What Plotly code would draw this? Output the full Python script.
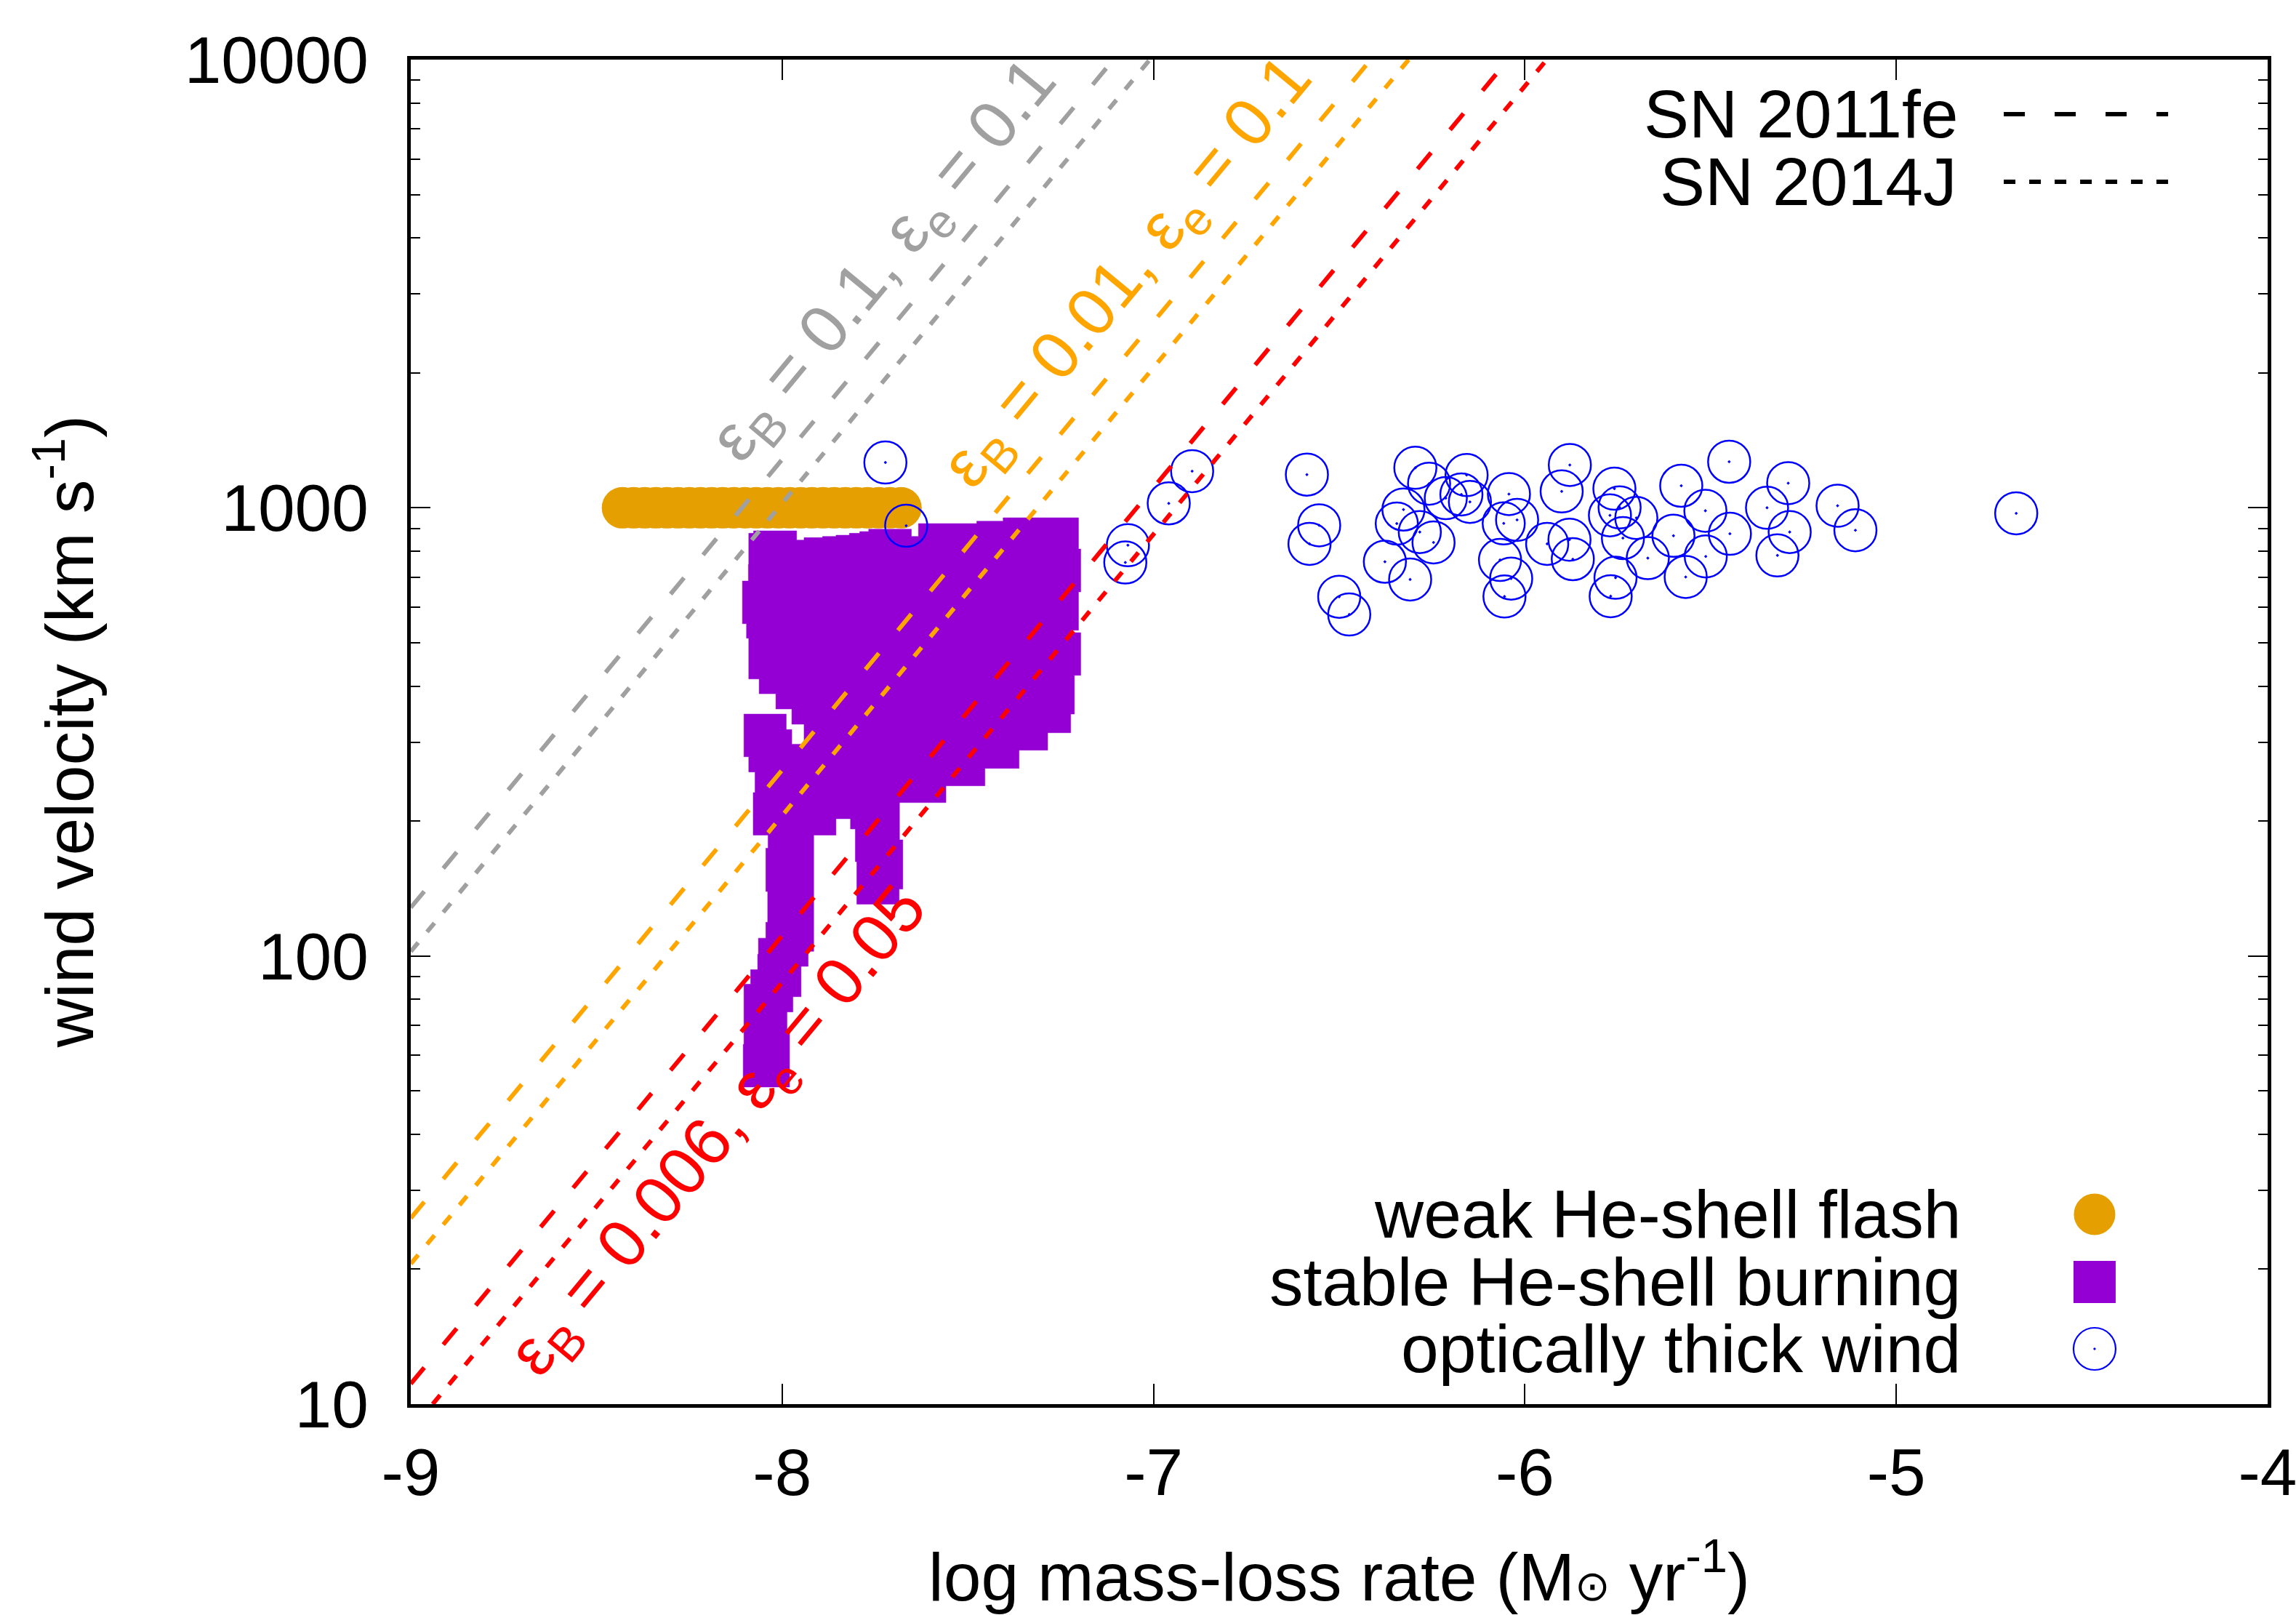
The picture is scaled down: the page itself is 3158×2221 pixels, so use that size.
import plotly.graph_objects as go

# ---------------- data ----------------
# log mass-loss rate (Msun/yr) and wind velocity (km/s)

# weak He-shell flash models (filled orange circles)
flash_x = [-8.43, -8.40, -8.37, -8.34, -8.31, -8.28, -8.25, -8.22, -8.19, -8.16,
           -8.13, -8.10, -8.07, -8.04, -8.01, -7.98, -7.95, -7.92, -7.89, -7.86,
           -7.83, -7.80, -7.77, -7.74, -7.71, -7.68]
flash_v = [1000] * len(flash_x)

# stable He-shell burning region (outline of the dense block of filled squares)
stable_x = [-8.090, -8.077, -8.077, -7.961, -7.961, -7.941, -7.941, -7.891, -7.891, -7.855,
            -7.855, -7.819, -7.819, -7.791, -7.791, -7.767, -7.767, -7.652, -7.652, -7.633,
            -7.633, -7.476, -7.476, -7.405, -7.405, -7.202, -7.202, -7.196, -7.196, -7.202,
            -7.202, -7.217, -7.217, -7.196, -7.196, -7.213, -7.213, -7.223, -7.223, -7.285,
            -7.285, -7.362, -7.362, -7.454, -7.454, -7.559, -7.559, -7.684, -7.684, -7.675,
            -7.675, -7.685, -7.685, -7.799, -7.799, -7.803, -7.803, -7.816, -7.816, -7.855,
            -7.855, -7.915, -7.915, -7.930, -7.930, -7.949, -7.949, -7.971, -7.971, -7.987,
            -7.987, -7.980, -7.980, -8.105, -8.105, -8.103, -8.103, -8.085, -8.085, -8.066,
            -8.066, -8.064, -8.064, -8.044, -8.044, -8.039, -8.039, -8.044, -8.044, -8.038,
            -8.038, -8.078, -8.078, -8.073, -8.073, -8.090, -8.090, -8.103, -8.103, -7.989,
            -7.989, -7.974, -7.974, -7.941, -7.941, -7.974, -7.974, -8.017, -8.017, -8.062,
            -8.062, -8.090, -8.090, -8.096, -8.096, -8.107, -8.107, -8.091, -8.091, -8.090,
            -8.090]
stable_v = [877.3, 877.3, 888.3, 888.3, 847.2, 847.2, 857.9, 857.9, 863.2, 863.2,
            868.6, 868.6, 877.3, 877.3, 885.0, 885.0, 896.1, 896.1, 863.2, 863.2,
            922.1, 922.1, 933.6, 933.6, 950.0, 950.0, 809.1, 809.1, 649.0, 649.0,
            533.0, 533.0, 526.4, 526.4, 422.8, 422.8, 346.5, 346.5, 314.8, 314.8,
            287.8, 287.8, 262.2, 262.2, 239.7, 239.7, 219.9, 219.9, 181.6, 181.6,
            141.0, 141.0, 130.5, 130.5, 162.3, 162.3, 192.0, 192.0, 202.4, 202.4,
            186.1, 186.1, 102.4, 102.4, 94.8, 94.8, 81.1, 81.1, 75.0, 75.0,
            68.7, 68.7, 51.0, 51.0, 63.5, 63.5, 86.5, 86.5, 93.2, 93.2,
            100.9, 100.9, 109.6, 109.6, 118.9, 118.9, 139.3, 139.3, 173.9, 173.9,
            186.1, 186.1, 231.5, 231.5, 257.3, 257.3, 278.3, 278.3, 346.5, 346.5,
            320.0, 320.0, 296.9, 296.9, 328.9, 328.9, 355.7, 355.7, 384.6, 384.6,
            415.0, 415.0, 511.7, 511.7, 551.2, 551.2, 686.4, 686.4, 748.2, 748.2,
            877.3]

# optically thick wind models (open circles)
wind_x = [-7.722, -7.666, -7.069, -7.076, -6.896, -6.959, -6.587, -6.554, -6.580, -6.295,
          -6.258, -6.157, -6.213, -6.171, -6.148, -6.327, -6.345, -6.283, -6.246, -6.377,
          -6.309, -6.500, -6.473, -6.043, -6.057, -6.021, -6.067, -6.037, -6.055, -5.940,
          -5.880, -5.871, -5.879, -5.901, -5.759, -5.771, -5.745, -5.700, -5.736, -5.669,
          -5.756, -5.769, -5.579, -5.514, -5.600, -5.513, -5.567, -5.450, -5.448, -5.348,
          -5.291, -5.287, -5.320, -5.158, -5.110, -4.677]
wind_v = [1262, 912, 825, 755, 1207, 1023, 1186, 914, 831, 1228,
          1132, 1183, 1051, 1071, 1031, 991, 922, 883, 837, 758,
          692, 633, 578, 1073, 923, 940, 765, 695, 634, 831,
          849, 768, 1246, 1088, 1103, 962, 1002, 949, 856, 772,
          698, 635, 1120, 985, 866, 779, 701, 1267, 875, 1000,
          1135, 883, 783, 1011, 891, 972]

# radio upper limits: SN 2011fe (dashed) and SN 2014J (dotted)
sn2011fe_gray_x, sn2011fe_gray_v = [-9.0, -7.108], [128.2, 10000]
sn2011fe_orange_x, sn2011fe_orange_v = [-9.0, -6.415], [26.0, 10000]
sn2011fe_red_x, sn2011fe_red_v = [-9.0, -6.045], [11.1, 10000]
sn2014j_gray_x, sn2014j_gray_v = [-9.0, -7.010], [102.3, 10000]
sn2014j_orange_x, sn2014j_orange_v = [-9.0, -6.313], [20.56, 10000]
sn2014j_red_x, sn2014j_red_v = [-8.941, -5.941], [10.0, 10000]

line_labels = ["ε<sub>B</sub> = 0.1, ε<sub>e</sub> = 0.1",
               "ε<sub>B</sub> = 0.01, ε<sub>e</sub> = 0.1",
               "ε<sub>B</sub> = 0.006, ε<sub>e</sub> = 0.05"]
label_x = [-7.720, -7.064, -8.166]
label_logv = [3.549, 3.523, 1.605]

xtick_vals = [-9, -8, -7, -6, -5, -4]
xtick_text = ["-9", "-8", "-7", "-6", "-5", "-4"]
ytick_vals = [10, 100, 1000, 10000]
ytick_text = ["10", "100", "1000", "10000"]
yminor_vals = [m * d for d in (10, 100, 1000) for m in range(2, 10)]

legend_names = ["weak He-shell flash", "stable He-shell burning", "optically thick wind"]
sn_names = ["SN 2011fe", "SN 2014J"]

# ---------------- styles ----------------
FONT = "Liberation Sans, Arial, Helvetica, sans-serif"
FS = 93
FS_TICK = 91
GRAY = "#A0A0A0"
ORANGE = "#FFA500"
RED = "#FF0000"
FLASH = "#E69F00"
PURPLE = "#9400D3"
BLUE = "#0000FF"
DASH = "29px,41px"
DOT = "16px,19px"
LW = 6

fig = go.Figure()

fig.add_trace(go.Scatter(x=stable_x, y=stable_v, mode="lines", fill="toself",
                         fillcolor=PURPLE, line=dict(width=0.5, color=PURPLE),
                         hoverinfo="skip", showlegend=False))
fig.add_trace(go.Scatter(x=flash_x, y=flash_v, mode="markers",
                         marker=dict(size=57, color=FLASH, line=dict(width=0)),
                         showlegend=False))
fig.add_trace(go.Scatter(x=wind_x, y=wind_v, mode="markers",
                         marker=dict(size=58, symbol="circle-open-dot", color=BLUE,
                                     line=dict(width=2.5, color=BLUE)),
                         showlegend=False))

for xs, vs, col, dash in [
    (sn2011fe_gray_x, sn2011fe_gray_v, GRAY, DASH),
    (sn2014j_gray_x, sn2014j_gray_v, GRAY, DOT),
    (sn2011fe_orange_x, sn2011fe_orange_v, ORANGE, DASH),
    (sn2014j_orange_x, sn2014j_orange_v, ORANGE, DOT),
    (sn2011fe_red_x, sn2011fe_red_v, RED, DASH),
    (sn2014j_red_x, sn2014j_red_v, RED, DOT),
]:
    fig.add_trace(go.Scatter(x=xs, y=vs, mode="lines",
                             line=dict(color=col, width=LW, dash=dash),
                             showlegend=False, hoverinfo="skip"))

# ---- in-plot key (gnuplot style: text then sample) on an overlay paper-like axis ----
key_text_x = 0.8355
key_sym_x = 0.9068
key_rows_y = [0.1412, 0.0909, 0.0411]
fig.add_trace(go.Scatter(x=[key_sym_x], y=[key_rows_y[0]], xaxis="x2", yaxis="y2", mode="markers",
                         marker=dict(size=57, color=FLASH), showlegend=False))
fig.add_trace(go.Scatter(x=[key_sym_x], y=[key_rows_y[1]], xaxis="x2", yaxis="y2", mode="markers",
                         marker=dict(size=58, symbol="square", color=PURPLE), showlegend=False))
fig.add_trace(go.Scatter(x=[key_sym_x], y=[key_rows_y[2]], xaxis="x2", yaxis="y2", mode="markers",
                         marker=dict(size=58, symbol="circle-open-dot", color=BLUE,
                                     line=dict(width=2.2, color=BLUE)), showlegend=False))
sn_rows_y = [0.9594, 0.9091]
fig.add_trace(go.Scatter(x=[0.8579, 0.9464], y=[sn_rows_y[0]] * 2, xaxis="x2", yaxis="y2", mode="lines",
                         line=dict(color="black", width=LW, dash=DASH), showlegend=False))
fig.add_trace(go.Scatter(x=[0.8579, 0.9534], y=[sn_rows_y[1]] * 2, xaxis="x2", yaxis="y2", mode="lines",
                         line=dict(color="black", width=LW, dash=DOT), showlegend=False))

annotations = []
for name, yy in zip(legend_names, key_rows_y):
    annotations.append(dict(text=name, x=key_text_x, y=yy, xref="paper", yref="paper",
                            xanchor="right", yanchor="middle", showarrow=False,
                            font=dict(family=FONT, size=FS, color="black")))
for name, yy, xx in zip(sn_names, sn_rows_y, [0.8345, 0.8333]):
    annotations.append(dict(text=name, x=xx, y=yy, xref="paper", yref="paper",
                            xanchor="right", yanchor="middle", showarrow=False,
                            font=dict(family=FONT, size=FS, color="black")))
for txt, lx, ly, col in zip(line_labels, label_x, label_logv, [GRAY, ORANGE, RED]):
    annotations.append(dict(text=txt, x=lx, y=ly, xref="x", yref="y", textangle=-50.35,
                            xanchor="center", yanchor="middle", showarrow=False,
                            font=dict(family=FONT, size=FS, color=col)))
# axis titles
annotations.append(dict(text="wind velocity (km s<sup>-1</sup>)", x=-0.1865, y=0.5,
                        xref="paper", yref="paper", textangle=-90, showarrow=False,
                        xanchor="center", yanchor="middle",
                        font=dict(family=FONT, size=FS, color="black")))
annotations.append(dict(text="log mass-loss rate (M<span style=\"font-size:58px\">⊙</span> yr<sup>-1</sup>)",
                        x=0.5, y=-0.125,
                        xref="paper", yref="paper", showarrow=False,
                        xanchor="center", yanchor="middle",
                        font=dict(family=FONT, size=FS, color="black")))

axis_common = dict(showline=True, linewidth=5, linecolor="black", mirror="allticks",
                   ticks="inside", tickwidth=2, tickcolor="black", showgrid=False,
                   zeroline=False, automargin=False,
                   tickfont=dict(family=FONT, size=FS_TICK, color="black"))

fig.update_layout(
    width=3158, height=2221,
    margin=dict(l=565, r=39, t=82, b=290, autoexpand=False),
    paper_bgcolor="white", plot_bgcolor="white",
    showlegend=False,
    xaxis=dict(range=[-9, -4], tickmode="array", tickvals=xtick_vals, ticktext=xtick_text,
               ticklen=28, ticklabelstandoff=11, ticklabeloverflow="allow", **axis_common),
    yaxis=dict(type="log", range=[1, 4], tickmode="array", tickvals=ytick_vals,
               ticktext=ytick_text, ticklen=27, ticklabelstandoff=35,
               minor=dict(ticks="inside", ticklen=13, tickwidth=2, tickcolor="black",
                          tickvals=yminor_vals, showgrid=False),
               **axis_common),
    xaxis2=dict(overlaying="x", range=[0, 1], visible=False, anchor="y2", fixedrange=True,
                automargin=False),
    yaxis2=dict(overlaying="y", range=[0, 1], visible=False, anchor="x2", fixedrange=True,
                automargin=False),
    annotations=annotations,
)

# remove the page's default body margin so the figure fills the window exactly
fig.write_html("out.html", config={"displayModeBar": False},
               post_script="document.body.style.margin='0';document.body.style.overflow='hidden';")
